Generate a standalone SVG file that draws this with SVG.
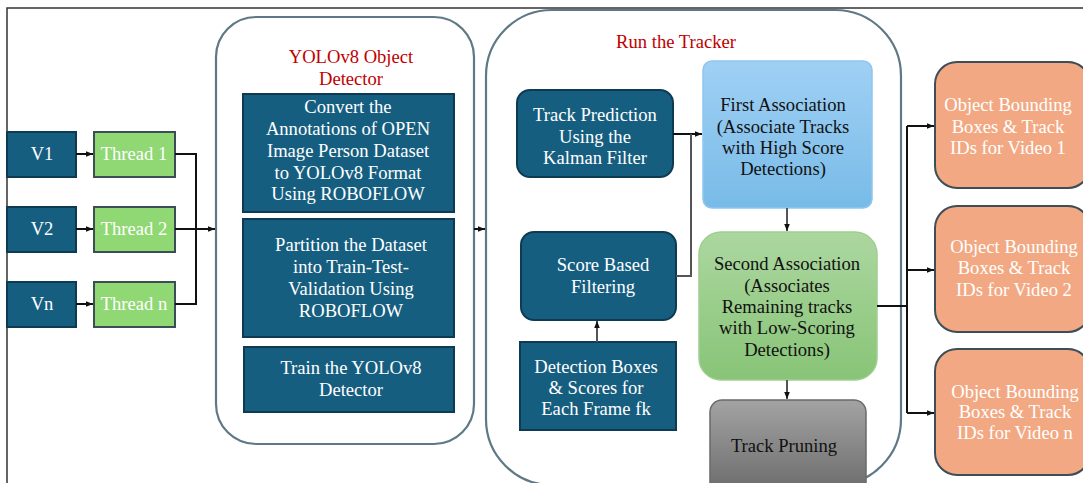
<svg xmlns="http://www.w3.org/2000/svg" width="1083" height="483" viewBox="0 0 1083 483">
<defs>
<linearGradient id="gBlue" x1="0" y1="0" x2="0" y2="1"><stop offset="0" stop-color="#a0d0f4"/><stop offset="1" stop-color="#78bbe8"/></linearGradient>
<linearGradient id="gGreen" x1="0" y1="0" x2="0" y2="1"><stop offset="0" stop-color="#acd7a0"/><stop offset="1" stop-color="#88c477"/></linearGradient>
<linearGradient id="gGray" x1="0" y1="0" x2="0" y2="1"><stop offset="0" stop-color="#a3a3a3"/><stop offset="1" stop-color="#6a6a6a"/></linearGradient>
<marker id="arr" viewBox="0 0 10 10" refX="10" refY="5" markerWidth="7" markerHeight="7" markerUnits="userSpaceOnUse" orient="auto"><path d="M0,1 L10,5 L0,9 Z" fill="#111"/></marker>
</defs>
<style>
text{font-family:"Liberation Serif","Times New Roman",serif;font-size:18.6px;text-anchor:middle}
.w{fill:#ffffff}
.k{fill:#111111}
.r{fill:#c00000}
.dark{fill:#165e80;stroke:#0f3b52;stroke-width:2}
.thr{fill:#8fd873;stroke:#3b4d57;stroke-width:2}
.cont{fill:#ffffff;stroke:#5f7886;stroke-width:2.2}
.org{fill:#f2a983;stroke:#3d4e58;stroke-width:2}
.ln{fill:none;stroke:#111;stroke-width:2}
.lg{fill:none;stroke:#555;stroke-width:2}
</style>
<rect width="1083" height="483" fill="#ffffff"/>
<path d="M7,483 L7,8 L1083,8" fill="none" stroke="#333" stroke-width="1.5"/>

<g id="yolo-container">
<rect class="cont" x="216" y="17" width="258" height="427" rx="40"/>
<text class="r" x="351" y="63">YOLOv8 Object</text>
<text class="r" x="351" y="85">Detector</text>
</g>
<g id="tracker-container">
<rect class="cont" x="486" y="10" width="415" height="475" rx="66"/>
<text class="r" x="676" y="48">Run the Tracker</text>
</g>

<g id="v1"><rect class="dark" x="7" y="132" width="69" height="45"/><text class="w" x="42" y="160">V1</text></g>
<g id="v2"><rect class="dark" x="7" y="207" width="69" height="45"/><text class="w" x="42" y="235">V2</text></g>
<g id="vn"><rect class="dark" x="7" y="282" width="69" height="45"/><text class="w" x="42" y="310">Vn</text></g>

<g id="thread1"><rect class="thr" x="94" y="132" width="81" height="45"/><text class="w" x="134" y="160">Thread 1</text></g>
<g id="thread2"><rect class="thr" x="94" y="207" width="81" height="45"/><text class="w" x="134" y="235">Thread 2</text></g>
<g id="threadn"><rect class="thr" x="94" y="282" width="81" height="45"/><text class="w" x="134" y="310">Thread n</text></g>

<g id="convert"><rect class="dark" x="243" y="94" width="211" height="118"/>
<text class="w" x="348" y="113">Convert the</text>
<text class="w" x="348" y="135">Annotations of OPEN</text>
<text class="w" x="348" y="157">Image Person Dataset</text>
<text class="w" x="348" y="179">to YOLOv8 Format</text>
<text class="w" x="348" y="200">Using ROBOFLOW</text>
</g>
<g id="partition"><rect class="dark" x="243" y="219" width="211" height="118"/>
<text class="w" x="351" y="251">Partition the Dataset</text>
<text class="w" x="351" y="273">into Train-Test-</text>
<text class="w" x="351" y="295">Validation Using</text>
<text class="w" x="351" y="317">ROBOFLOW</text>
</g>
<g id="train"><rect class="dark" x="244" y="347" width="210" height="65"/>
<text class="w" x="351" y="374">Train the YOLOv8</text>
<text class="w" x="351" y="396">Detector</text>
</g>

<g id="track-prediction"><rect class="dark" x="517" y="90" width="156" height="87" rx="13"/>
<text class="w" x="595" y="121">Track Prediction</text>
<text class="w" x="595" y="143">Using the</text>
<text class="w" x="595" y="164">Kalman Filter</text>
</g>
<g id="score-filtering"><rect class="dark" x="521" y="232" width="155" height="88" rx="13"/>
<text class="w" x="603" y="271">Score Based</text>
<text class="w" x="603" y="293">Filtering</text>
</g>
<g id="detection-boxes"><rect class="dark" x="520" y="342" width="156" height="88"/>
<text class="w" x="596" y="373">Detection Boxes</text>
<text class="w" x="596" y="394">&amp; Scores for</text>
<text class="w" x="596" y="415">Each Frame fk</text>
</g>

<g id="first-association"><rect x="703" y="61" width="169" height="147" rx="9" fill="url(#gBlue)" stroke="#8ec6ef" stroke-width="1.5"/>
<text class="k" x="783" y="111">First Association</text>
<text class="k" x="783" y="133">(Associate Tracks</text>
<text class="k" x="783" y="154">with High Score</text>
<text class="k" x="783" y="175">Detections)</text>
</g>
<g id="second-association"><rect x="699" y="232" width="178" height="148" rx="22" fill="url(#gGreen)" stroke="#9fcf90" stroke-width="1.5"/>
<text class="k" x="787" y="270">Second Association</text>
<text class="k" x="787" y="292">(Associates</text>
<text class="k" x="787" y="313">Remaining tracks</text>
<text class="k" x="787" y="334">with Low-Scoring</text>
<text class="k" x="787" y="356">Detections)</text>
</g>
<g id="track-pruning"><rect x="710" y="400" width="156" height="95" rx="12" fill="url(#gGray)" stroke="#6a6a6a" stroke-width="1.5"/>
<text class="k" x="784" y="452">Track Pruning</text>
</g>

<g id="out1"><rect class="org" x="935" y="62" width="155" height="126" rx="22"/>
<text class="w" x="1008" y="111">Object Bounding</text>
<text class="w" x="1008" y="133">Boxes &amp; Track</text>
<text class="w" x="1008" y="154">IDs for Video 1</text>
</g>
<g id="out2"><rect class="org" x="935" y="206" width="155" height="126" rx="22"/>
<text class="w" x="1014" y="253">Object Bounding</text>
<text class="w" x="1014" y="274">Boxes &amp; Track</text>
<text class="w" x="1014" y="296">IDs for Video 2</text>
</g>
<g id="outn"><rect class="org" x="935" y="349" width="155" height="126" rx="22"/>
<text class="w" x="1015" y="398">Object Bounding</text>
<text class="w" x="1015" y="418">Boxes &amp; Track</text>
<text class="w" x="1015" y="439">IDs for Video n</text>
</g>

<g id="connectors">
<path class="ln" d="M76,154 H93" marker-end="url(#arr)"/>
<path class="ln" d="M76,229 H93" marker-end="url(#arr)"/>
<path class="ln" d="M76,304 H93" marker-end="url(#arr)"/>
<path class="ln" d="M175,154 H196 V304 H175"/>
<path class="ln" d="M175,229 H215" marker-end="url(#arr)"/>
<path class="ln" d="M474,229 H485" marker-end="url(#arr)"/>
<path class="ln" d="M673,134 H702" marker-end="url(#arr)"/>
<path class="lg" d="M676,276 H691 V134"/>
<path class="lg" d="M597,342 V321" marker-end="url(#arr)"/>
<path class="lg" d="M787,208 V231" marker-end="url(#arr)"/>
<path class="lg" d="M787,380 V399" marker-end="url(#arr)"/>
<path class="ln" d="M877,306 H907"/>
<path class="ln" d="M907,126 V413"/>
<path class="ln" d="M907,126 H934" marker-end="url(#arr)"/>
<path class="ln" d="M907,270 H934" marker-end="url(#arr)"/>
<path class="ln" d="M907,413 H934" marker-end="url(#arr)"/>
</g>
</svg>
